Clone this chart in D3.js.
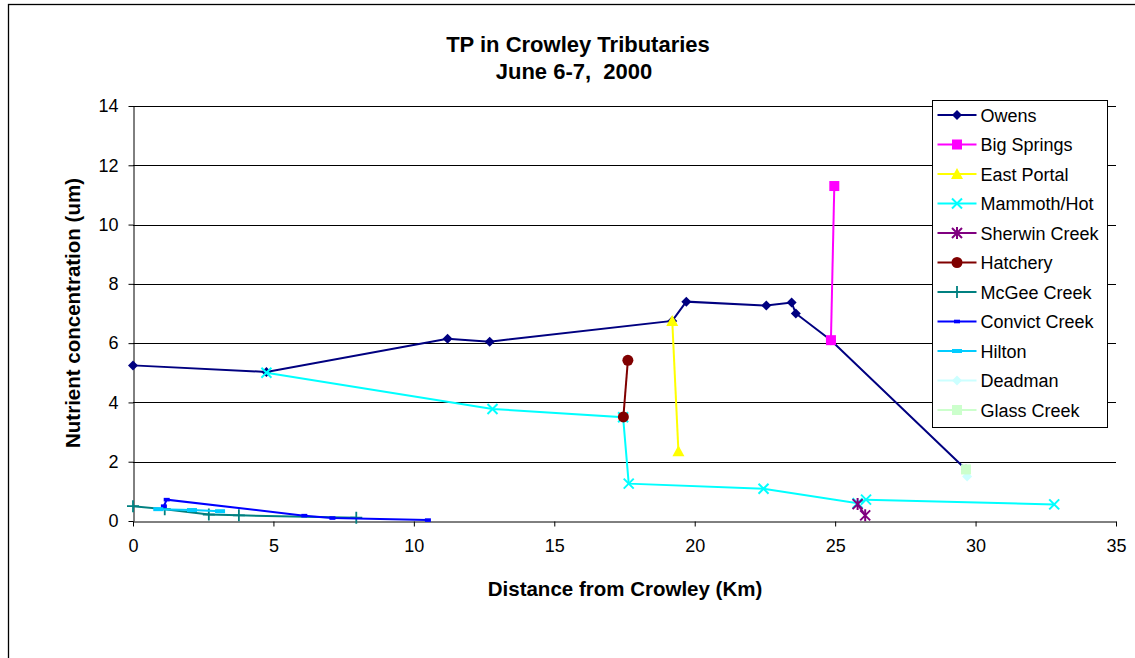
<!DOCTYPE html>
<html>
<head>
<meta charset="utf-8">
<script src="https://cdn.jsdelivr.net/npm/d3@7"></script>
<style>
  body { margin: 0; background: #fff; }
  text { font-family: Arial, "Liberation Sans", sans-serif; }
</style>
</head>
<body>
<div id="chart"></div>
<script>
// values: [distance km, TP um]
const owens = [[0, 5.25], [4.75, 5.03], [11.2, 6.15], [12.7, 6.05], [19.2, 6.75], [19.7, 7.4],
  [22.55, 7.27], [23.45, 7.37], [23.6, 7.0], [24.85, 6.1], [29.66, 1.74]];
const bigSprings = [[24.85, 6.1], [24.97, 11.3]];
const eastPortal = [[19.2, 6.75], [19.42, 2.35]];
const mammothHot = [[4.75, 5.0], [12.8, 3.78], [17.45, 3.5], [17.65, 1.26], [22.45, 1.09],
  [25.8, 0.6], [26.1, 0.72], [32.8, 0.56]];
const sherwinCreek = [[25.8, 0.57], [26.07, 0.19]];
const hatchery = [[17.46, 3.51], [17.62, 5.42]];
const mcgeeCreek = [[0, 0.5], [1.13, 0.4], [2.7, 0.22], [3.77, 0.19], [7.95, 0.11]];
const convictCreek = [[1.1, 0.5], [1.2, 0.72], [6.1, 0.18], [7.1, 0.1], [10.5, 0.03]];
const hilton = [[0.9, 0.4], [2.1, 0.37], [3.1, 0.33]];
const deadman = [[29.7, 1.5]];
const glassCreek = [[29.66, 1.74]];

const seriesNames = ['Owens', 'Big Springs', 'East Portal', 'Mammoth/Hot', 'Sherwin Creek', 'Hatchery',
  'McGee Creek', 'Convict Creek', 'Hilton', 'Deadman', 'Glass Creek'];
const seriesValues = [owens, bigSprings, eastPortal, mammothHot, sherwinCreek, hatchery,
  mcgeeCreek, convictCreek, hilton, deadman, glassCreek];
const seriesColors = ['#000080', '#FF00FF', '#FFFF00', '#00FFFF', '#800080', '#800000',
  '#008080', '#0000FF', '#00CCFF', '#CCFFFF', '#CCFFCC'];
const seriesMarkers = ['diamond', 'square', 'triangle', 'x', 'asterisk', 'circle',
  'plus', 'dash', 'wideDash', 'diamond', 'square'];

const xTicks = [0, 5, 10, 15, 20, 25, 30, 35];
const yTicks = [0, 2, 4, 6, 8, 10, 12, 14];

const width = 1135;
const height = 658;
const plot = { left: 133, right: 1116, top: 106, bottom: 521 };

const svg = d3.select('#chart')
  .append('svg')
  .attr('width', width)
  .attr('height', height);

// chart frame (right and bottom edges run past the window)
svg.append('rect')
  .attr('x', 8.5)
  .attr('y', 4.5)
  .attr('width', width + 10)
  .attr('height', height + 10)
  .attr('fill', '#fff')
  .attr('stroke', '#000')
  .attr('stroke-width', 1.3);

const x = d3.scaleLinear().domain([0, 35]).range([plot.left, plot.right]);
const y = d3.scaleLinear().domain([0, 14]).range([plot.bottom, plot.top]);

// gridlines
svg.append('g')
  .selectAll('line')
  .data(yTicks.filter(d => d > 0))
  .join('line')
  .attr('x1', plot.left)
  .attr('x2', plot.right)
  .attr('y1', d => Math.round(y(d)) + 0.5)
  .attr('y2', d => Math.round(y(d)) + 0.5)
  .attr('stroke', '#000')
  .attr('stroke-width', 1);

const customAxis = g => {
  g.select('.domain').attr('stroke', '#000');
  g.selectAll('.tick line').attr('stroke', '#000');
  g.selectAll('.tick text')
    .attr('fill', '#000')
    .style('font-size', '18px');
};

svg.append('g')
  .attr('transform', `translate(${plot.left + 0.5},0)`)
  .call(d3.axisLeft(y).tickValues(yTicks).tickSize(5).tickSizeOuter(0).tickPadding(10))
  .call(customAxis);

svg.append('g')
  .attr('transform', `translate(0,${plot.bottom + 0.5})`)
  .call(d3.axisBottom(x).tickValues(xTicks).tickSize(5).tickSizeOuter(0).tickPadding(13))
  .call(customAxis);

// titles
svg.append('text')
  .attr('x', 578)
  .attr('y', 52)
  .attr('text-anchor', 'middle')
  .style('font-size', '22px')
  .style('font-weight', 'bold')
  .text('TP in Crowley Tributaries');
svg.append('text')
  .attr('x', 574)
  .attr('y', 79)
  .attr('text-anchor', 'middle')
  .style('font-size', '22px')
  .style('font-weight', 'bold')
  .style('white-space', 'pre')
  .text('June 6-7,  2000');
svg.append('text')
  .attr('x', 625)
  .attr('y', 596)
  .attr('text-anchor', 'middle')
  .style('font-size', '20.5px')
  .style('font-weight', 'bold')
  .text('Distance from Crowley (Km)');
svg.append('text')
  .attr('transform', 'translate(80,313) rotate(-90)')
  .attr('text-anchor', 'middle')
  .style('font-size', '20.5px')
  .style('font-weight', 'bold')
  .text('Nutrient concentration (um)');

// markers
function drawMarker(g, type, color) {
  switch (type) {
  case 'diamond':
    g.append('path').attr('d', 'M0,-5L5,0L0,5L-5,0Z').attr('fill', color);
    break;
  case 'square':
    g.append('rect').attr('x', -5).attr('y', -5).attr('width', 10).attr('height', 10).attr('fill', color);
    break;
  case 'triangle':
    g.append('path').attr('d', 'M0,-6L6,5L-6,5Z').attr('fill', color);
    break;
  case 'circle':
    g.append('circle').attr('r', 5.5).attr('fill', color);
    break;
  case 'x':
    g.append('path').attr('d', 'M-5,-5L5,5M-5,5L5,-5').attr('stroke', color).attr('stroke-width', 2);
    break;
  case 'asterisk':
    g.append('path').attr('d', 'M-5,-5L5,5M-5,5L5,-5M0,-6L0,6').attr('stroke', color).attr('stroke-width', 2);
    break;
  case 'plus':
    g.append('path').attr('d', 'M-6,0L6,0M0,-6L0,6').attr('stroke', color).attr('stroke-width', 1.8);
    break;
  case 'dash':
    g.append('rect').attr('x', -3).attr('y', -1.8).attr('width', 6).attr('height', 3.6).attr('fill', color);
    break;
  case 'wideDash':
    g.append('rect').attr('x', -5).attr('y', -2).attr('width', 10).attr('height', 4).attr('fill', color);
    break;
  }
}

const line = d3.line().x(d => x(d[0])).y(d => y(d[1]));
const seriesG = svg.append('g');

seriesValues.forEach((vals, i) => {
  const g = seriesG.append('g');
  if (vals.length > 1) {
    g.append('path')
      .attr('d', line(vals))
      .attr('fill', 'none')
      .attr('stroke', seriesColors[i])
      .attr('stroke-width', 2);
  }
  g.selectAll('g.pt')
    .data(vals)
    .join('g')
    .attr('class', 'pt')
    .attr('transform', d => `translate(${x(d[0])},${y(d[1])})`)
    .each(function() { drawMarker(d3.select(this), seriesMarkers[i], seriesColors[i]); });
});

// legend
const legend = svg.append('g').attr('transform', 'translate(932.5,100.5)');
legend.append('rect')
  .attr('width', 175)
  .attr('height', 327)
  .attr('fill', '#fff')
  .attr('stroke', '#000')
  .attr('stroke-width', 1);

const items = legend.selectAll('g.item')
  .data(seriesNames)
  .join('g')
  .attr('class', 'item')
  .attr('transform', (d, i) => `translate(0,${14.5 + i * 29.5})`);
items.append('line')
  .attr('x1', 5)
  .attr('x2', 44)
  .attr('stroke', (d, i) => seriesColors[i])
  .attr('stroke-width', 2);
items.each(function(d, i) {
  const m = d3.select(this).append('g').attr('transform', 'translate(24.5,0)');
  drawMarker(m, seriesMarkers[i], seriesColors[i]);
});
items.append('text')
  .attr('x', 48)
  .attr('y', 6.5)
  .style('font-size', '18px')
  .text(d => d);
</script>
</body>
</html>
